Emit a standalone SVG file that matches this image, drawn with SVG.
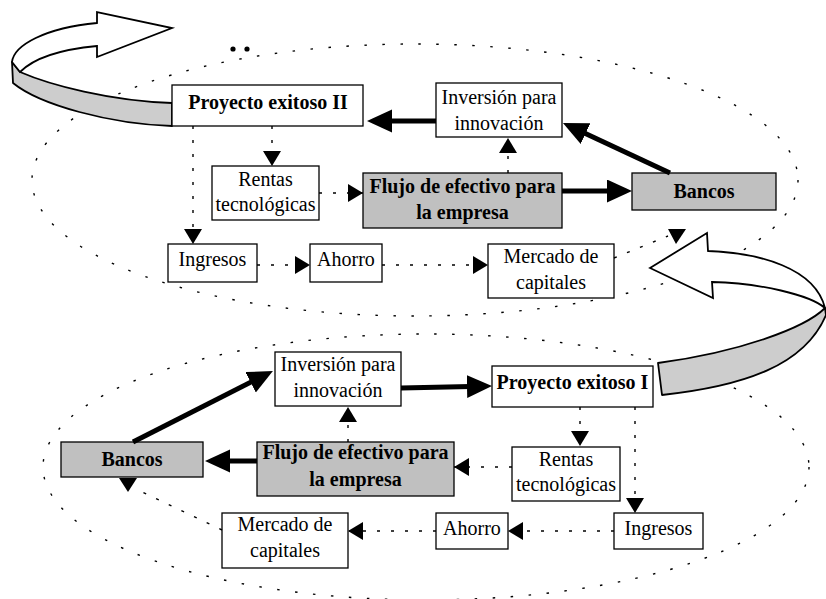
<svg xmlns="http://www.w3.org/2000/svg" width="826" height="599" viewBox="0 0 826 599">
<style>
.box{fill:#fff;stroke:#000;stroke-width:1.3}
.gbox{fill:#c0c0c0;stroke:#000;stroke-width:1.3}
.t{font-family:"Liberation Serif","Times New Roman",serif;font-size:20px;text-anchor:middle;fill:#000}
.b{font-weight:bold}
.dot{fill:none;stroke:#000;stroke-width:1.4;stroke-dasharray:3 11}
.thick{fill:none;stroke:#000;stroke-width:5}
.ell{fill:none;stroke:#000;stroke-width:1.4;stroke-dasharray:2.5 15.5}
.band{fill:#cdcdcd;stroke:#000;stroke-width:1.8;stroke-linejoin:round}
.arr{fill:#fff;stroke:#000;stroke-width:1.8;stroke-linejoin:miter}
</style>
<defs>
<marker id="ah" markerUnits="userSpaceOnUse" markerWidth="16" markerHeight="18" refX="15" refY="9" orient="auto"><path d="M0,0 L15,9 L0,18 Z" fill="#000"/></marker>
<marker id="ahb" markerUnits="userSpaceOnUse" markerWidth="26" markerHeight="24" refX="15" refY="11.5" orient="auto"><path d="M0,0 L25,11.5 L0,23 Z" fill="#000"/></marker>
</defs>
<rect width="826" height="599" fill="#fff"/>
<g id="orbits">
<ellipse class="ell" cx="415" cy="180" rx="383" ry="136"/>
<ellipse class="ell" cx="426" cy="467" rx="383" ry="133"/>
<circle cx="233" cy="49" r="2.6" fill="#000"/>
<circle cx="247" cy="49" r="2.6" fill="#000"/>
</g>
<g id="cycle-arrow-top">
<path class="band" d="M12,62 L20,72 C50,85 110,101 172,103 L172,126 C110,124 40,105 13,83 Z"/>
<path class="arr" d="M12,62 C14,45 45,28 97,23 L97,12 L172,28 L97,57 L97,46 C65,49 35,57 20,72 Z"/>
</g>
<g id="cycle-arrow-bottom">
<path class="band" d="M825,308 C805,328 740,352 658,363 L662,395 C745,386 805,365 826,315 Z"/>
<path class="arr" d="M650,268 L707,233 L708,251 C760,253 815,268 825,308 C810,295 760,283 712,282 L713,298 Z"/>
</g>
<g id="n_pe2"><rect class="box" x="172" y="85" width="191" height="41"/><text class="t b" x="268" y="109">Proyecto exitoso II</text></g>
<g id="n_inv2"><rect class="box" x="436" y="83" width="126" height="54"/><text class="t" x="499" y="104">Inversión para<tspan x="499" dy="26">innovación</tspan></text></g>
<g id="n_ren2"><rect class="box" x="212" y="166" width="107" height="54"/><text class="t" x="265.5" y="186">Rentas<tspan x="265.5" dy="25">tecnológicas</tspan></text></g>
<g id="n_flu2"><rect class="gbox" x="363" y="173" width="199" height="55"/><text class="t b" x="462.5" y="193">Flujo de efectivo para<tspan x="462.5" dy="26">la empresa</tspan></text></g>
<g id="n_ban2"><rect class="gbox" x="632" y="173" width="144" height="37"/><text class="t b" x="704" y="198">Bancos</text></g>
<g id="n_ing2"><rect class="box" x="168" y="244" width="89" height="38"/><text class="t" x="212.5" y="266">Ingresos</text></g>
<g id="n_aho2"><rect class="box" x="310" y="244" width="72" height="38"/><text class="t" x="346" y="266">Ahorro</text></g>
<g id="n_mer2"><rect class="box" x="488" y="244" width="126" height="54"/><text class="t" x="551" y="263">Mercado de<tspan x="551" dy="26">capitales</tspan></text></g>
<g id="n_inv1"><rect class="box" x="275" y="352" width="126" height="54"/><text class="t" x="338" y="371">Inversión para<tspan x="338" dy="26">innovación</tspan></text></g>
<g id="n_pe1"><rect class="box" x="492" y="366" width="161" height="41"/><text class="t b" x="572.5" y="389">Proyecto exitoso I</text></g>
<g id="n_ban1"><rect class="gbox" x="61" y="442" width="142" height="35"/><text class="t b" x="132" y="466">Bancos</text></g>
<g id="n_flu1"><rect class="gbox" x="257" y="442" width="197" height="54"/><text class="t b" x="355.5" y="459">Flujo de efectivo para<tspan x="355.5" dy="27">la empresa</tspan></text></g>
<g id="n_ren1"><rect class="box" x="512" y="447" width="108" height="54"/><text class="t" x="566" y="466">Rentas<tspan x="566" dy="25">tecnológicas</tspan></text></g>
<g id="n_ing1"><rect class="box" x="614" y="513" width="89" height="36"/><text class="t" x="658.5" y="535">Ingresos</text></g>
<g id="n_aho1"><rect class="box" x="436" y="513" width="72" height="36"/><text class="t" x="472" y="535">Ahorro</text></g>
<g id="n_mer1"><rect class="box" x="222" y="513" width="126" height="55"/><text class="t" x="285" y="531">Mercado de<tspan x="285" dy="26">capitales</tspan></text></g>
<g id="connectors">
<line class="thick" x1="436" y1="121" x2="377" y2="121" marker-end="url(#ahb)"/>
<line class="thick" x1="670" y1="173" x2="572" y2="127.2" marker-end="url(#ahb)"/>
<line class="thick" x1="562" y1="191" x2="622" y2="191" marker-end="url(#ahb)"/>
<line class="dot" x1="508" y1="173" x2="508" y2="138" marker-end="url(#ah)"/>
<line class="dot" x1="272" y1="126" x2="272" y2="166" marker-end="url(#ah)"/>
<line class="dot" x1="193" y1="126" x2="193" y2="244" marker-end="url(#ah)"/>
<line class="dot" x1="319" y1="193" x2="363" y2="193" marker-end="url(#ah)"/>
<line class="dot" x1="257" y1="265" x2="310" y2="265" marker-end="url(#ah)"/>
<line class="dot" x1="382" y1="265" x2="488" y2="265" marker-end="url(#ah)"/>
<path class="dot" d="M614,258 L668,236"/>
<path d="M668,229 L686,229 L676,244 Z" fill="#000"/>
<line class="thick" x1="133" y1="442" x2="264" y2="375.5" marker-end="url(#ahb)"/>
<line class="thick" x1="401" y1="388" x2="482" y2="386.3" marker-end="url(#ahb)"/>
<line class="thick" x1="257" y1="461" x2="215" y2="461" marker-end="url(#ahb)"/>
<line class="dot" x1="348" y1="442" x2="348" y2="407" marker-end="url(#ah)"/>
<line class="dot" x1="580" y1="407" x2="580" y2="446" marker-end="url(#ah)"/>
<line class="dot" x1="635" y1="407" x2="635" y2="513" marker-end="url(#ah)"/>
<line class="dot" x1="512" y1="467" x2="454" y2="467" marker-end="url(#ah)"/>
<line class="dot" x1="614" y1="531" x2="508" y2="531" marker-end="url(#ah)"/>
<line class="dot" x1="436" y1="531" x2="348" y2="531" marker-end="url(#ah)"/>
<path class="dot" d="M222,530 L138,490"/>
<path d="M119,478 L137,478 L128,492 Z" fill="#000"/>
</g>
</svg>
